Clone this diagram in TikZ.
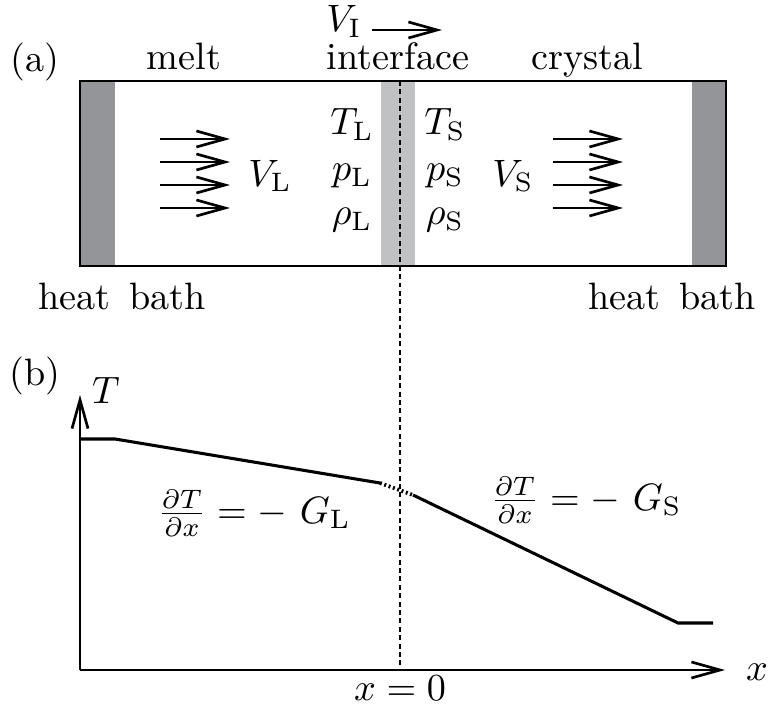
\documentclass[tikz,border=0pt]{standalone}
\usepackage{amsmath}
\usetikzlibrary{positioning, arrows.meta, calc}
\definecolor{bathgray}{RGB}{147,149,152}
\definecolor{bandgray}{RGB}{192,193,195}

\begin{document}
\begin{tikzpicture}[x=0.262pt, y=-0.262pt,
    wall/.style={line width=0.7pt},
    flow/.style={-{Straight Barb[length=7.5pt, width=4.2pt]}, line width=0.7pt},
    axis/.style={-{Straight Barb[length=7.5pt, width=4.2pt]}, line width=0.7pt},
    profile/.style={line width=0.8pt},
    lbl/.style={inner sep=0pt, anchor=base}]
    \useasboundingbox (0,0) rectangle (771,713);

    % Box corners and interface line
    \coordinate (boxNW) at (80,81);
    \coordinate (boxSE) at (726,266);
    \coordinate (ifTop) at (400,81);
    \coordinate (ifBot) at (400,670);

    % Heat baths and interface layer
    \fill[bathgray] (boxNW) rectangle (115,266);
    \fill[bathgray] (692,81) rectangle (boxSE);
    \fill[bandgray] (381,81) rectangle (415,266);
    \draw[wall] (boxNW) rectangle (boxSE);
    \draw[dashed, line width=0.4pt, dash pattern=on 1.3pt off 0.9pt] (ifTop) -- (ifBot);

    % Labels above and below the box
    \node[lbl] (labA) at (35,72) {(a)};
    \node[lbl] (melt) at (184,70) {melt};
    \node[lbl] (iface) at (398,70) {interface};
    \node[lbl] (cryst) at (587,70) {crystal};
    \node[lbl] (vI) at (344,32) {$V_{\mathrm{I}}$};
    \coordinate (vIa) at (372,30);
    \coordinate (vIb) at (442,30);
    \draw[flow] (vIa) -- (vIb);
    \node[lbl] (bathL) at (122,310) {heat\enspace bath};
    \node[lbl] (bathR) at (672,310) {heat\enspace bath};

    % Flow arrows
    \foreach \y [count=\i] in {139,162,185,208} {
        \coordinate (la\i) at (160,\y);
        \coordinate (lb\i) at (230,\y);
        \coordinate (ra\i) at (553,\y);
        \coordinate (rb\i) at (623,\y);
        \draw[flow] (la\i) -- (lb\i);
        \draw[flow] (ra\i) -- (rb\i);
    }
    \node (vL) at (270,176) {$V_{\mathrm{L}}$};
    \node (vS) at (513,176) {$V_{\mathrm{S}}$};

    % State variables
    \node[lbl] (tL) at (352,135) {$T_{\mathrm{L}}$};
    \node[lbl] (pL) at (352,181) {$p_{\mathrm{L}}$};
    \node[lbl] (rL) at (352,225) {$\rho_{\mathrm{L}}$};
    \node[lbl] (tS) at (445,135) {$T_{\mathrm{S}}$};
    \node[lbl] (pS) at (445,181) {$p_{\mathrm{S}}$};
    \node[lbl] (rS) at (445,225) {$\rho_{\mathrm{S}}$};

    % Axes
    \node[lbl] (labB) at (35,386) {(b)};
    \coordinate (origin) at (80,670);
    \coordinate (yTip) at (80,395);
    \coordinate (xTip) at (725,670);
    \draw[axis] (origin) -- (yTip);
    \draw[axis] (origin) -- (xTip);
    \node (tLab) at (106,390) {$T$};
    \node (xLab) at (757,672) {$x$};
    \node[lbl] (xZero) at (400,700) {$x=0$};

    % Temperature profile
    \coordinate (p0) at (80,439);
    \coordinate (p1) at (115,439);
    \coordinate (p2) at (380,483);
    \coordinate (p3) at (413,495);
    \coordinate (p4) at (678,623);
    \coordinate (p5) at (713,623);
    \draw[profile] (p0) -- (p1) -- (p2);
    \draw[line width=1pt, dash pattern=on 0.5pt off 0.7pt] (p2) -- (p3);
    \draw[profile] (p3) -- (p4) -- (p5);

    % Gradients
    \node (gradL) at (254,513) {$\frac{\partial T}{\partial x}=-\ G_{\mathrm{L}}$};
    \node (gradS) at (586,500) {$\frac{\partial T}{\partial x}=-\ G_{\mathrm{S}}$};
\end{tikzpicture}
\end{document}
